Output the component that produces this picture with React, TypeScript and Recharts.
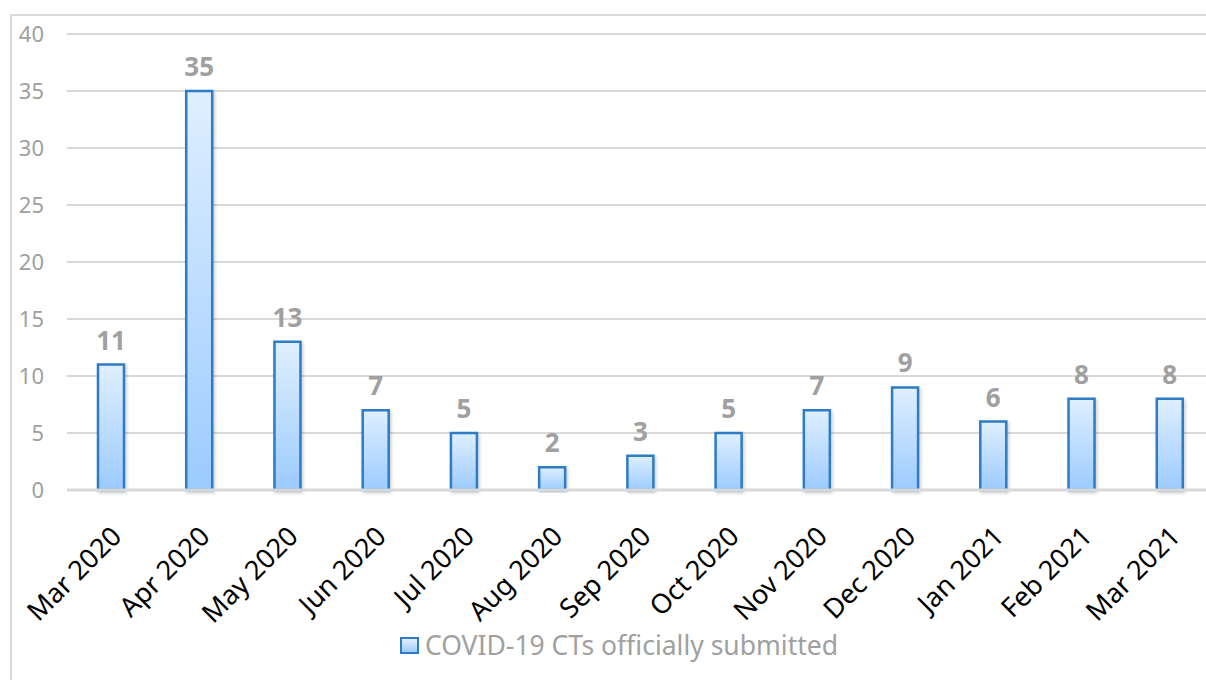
import { Bar, BarChart, CartesianGrid, LabelList, Legend, XAxis, YAxis } from 'recharts';

const months = [
  'Mar 2020', 'Apr 2020', 'May 2020', 'Jun 2020', 'Jul 2020', 'Aug 2020', 'Sep 2020',
  'Oct 2020', 'Nov 2020', 'Dec 2020', 'Jan 2021', 'Feb 2021', 'Mar 2021',
];
const submitted = [11, 35, 13, 7, 5, 2, 3, 5, 7, 9, 6, 8, 8];
const yTicks = [0, 5, 10, 15, 20, 25, 30, 35, 40];
const seriesName = 'COVID-19 CTs officially submitted';

const data = months.map((month, i) => ({ month, value: submitted[i] }));

const GRAY = '#a0a0a0';
const GRID = '#d9d9d9';
const STROKE = '#2e7bc4';

function YTick({ y, payload }: any) {
  return (
    <text x={44} y={y} dy="0.36em" textAnchor="end" fill={GRAY} fontSize={22}>
      {payload.value}
    </text>
  );
}

function XTick({ x, y, payload }: any) {
  const ax = x + 12;
  const ay = y + 40;
  return (
    <text x={ax} y={ay} textAnchor="end" fill="#000" fontSize={27} transform={`rotate(-45 ${ax} ${ay})`}>
      {payload.value}
    </text>
  );
}

function LegendContent() {
  return (
    <div style={{ display: 'flex', justifyContent: 'center', alignItems: 'center', height: 50, paddingLeft: 24 }}>
      <span
        style={{
          display: 'inline-block',
          width: 15,
          height: 13,
          border: `2px solid ${STROKE}`,
          background: 'linear-gradient(#dfefff, #9ccbff)',
          marginRight: 6,
        }}
      />
      <span style={{ color: GRAY, fontSize: 26.5 }}>{seriesName}</span>
    </div>
  );
}

export default function App() {
  return (
    <div
      style={{
        position: 'fixed',
        left: 0,
        top: 0,
        width: 1206,
        height: 680,
        overflow: 'hidden',
        background: '#fff',
        fontFamily: '"Noto Sans", sans-serif',
      }}
    >
      <div
        style={{
          position: 'absolute',
          left: 10,
          top: 14,
          width: 1300,
          height: 800,
          border: `2px solid ${GRID}`,
        }}
      />
      <div style={{ position: 'absolute', left: 0, top: 0 }}>
        <BarChart width={1230} height={680} data={data} margin={{ top: 34, right: 16, left: 0, bottom: 10 }}>
          <defs>
            <linearGradient id="barFill" x1="0" y1="0" x2="0" y2="1">
              <stop offset="0%" stopColor="#dfefff" />
              <stop offset="100%" stopColor="#9ccbff" />
            </linearGradient>
            <filter id="barShadow" x="-20%" y="-5%" width="150%" height="115%">
              <feDropShadow dx="1.5" dy="2" stdDeviation="1.5" floodColor="#000" floodOpacity="0.2" />
            </filter>
          </defs>
          <CartesianGrid vertical={false} stroke={GRID} strokeWidth={2} />
          <YAxis
            width={67}
            domain={[0, 40]}
            ticks={yTicks}
            axisLine={false}
            tickLine={false}
            tick={<YTick />}
          />
          <XAxis
            dataKey="month"
            height={130}
            interval={0}
            tickLine={false}
            axisLine={{ stroke: GRID, strokeWidth: 3 }}
            tick={<XTick />}
          />
          <Legend verticalAlign="bottom" height={50} content={<LegendContent />} />
          <Bar
            dataKey="value"
            name={seriesName}
            barSize={26}
            fill="url(#barFill)"
            stroke={STROKE}
            strokeWidth={2.5}
            filter="url(#barShadow)"
            isAnimationActive={false}
          >
            <LabelList dataKey="value" position="top" offset={15} fill={GRAY} fontSize={26} fontWeight="bold" />
          </Bar>
        </BarChart>
      </div>
    </div>
  );
}
